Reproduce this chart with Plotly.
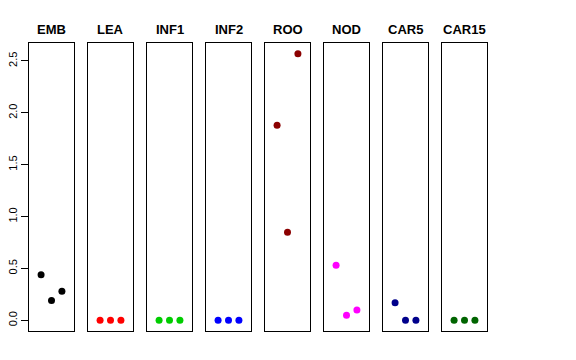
import plotly.graph_objects as go

tissues = ["EMB", "LEA", "INF1", "INF2", "ROO", "NOD", "CAR5", "CAR15"]
rep1 = [0.44, 0.0, 0.0, 0.0, 1.88, 0.53, 0.17, 0.0]
rep2 = [0.19, 0.0, 0.0, 0.0, 0.85, 0.05, 0.0, 0.0]
rep3 = [0.28, 0.0, 0.0, 0.0, 2.57, 0.10, 0.0, 0.0]
colors = ["#000000", "#FF0000", "#00CD00", "#0000FF", "#8B0000", "#FF00FF", "#00008B", "#006400"]
reps = [1, 2, 3]
yticks = [0.0, 0.5, 1.0, 1.5, 2.0, 2.5]

W, H = 576, 360
OFF = 8  # default page body margin
fig = go.Figure()
ymax = max(rep1 + rep2 + rep3)
ylo, yhi = -0.04 * ymax, ymax * 1.04

for i, t in enumerate(tissues):
    left = 29 + 59 * i - OFF
    right = left + 45
    ax = "" if i == 0 else str(i + 1)
    fig.add_trace(go.Scatter(
        x=reps, y=[rep1[i], rep2[i], rep3[i]], mode="markers",
        marker=dict(color=colors[i], size=7),
        xaxis="x" + ax, yaxis="y" + ax, showlegend=False, hoverinfo="skip"))
    fig.layout["xaxis" + ax] = dict(
        domain=[left / W, right / W], range=[-0.16, 4.16], anchor="y" + ax,
        showgrid=False, zeroline=False, showticklabels=False, ticks="", automargin=False,
        showline=True, mirror=True, linecolor="black", linewidth=1)
    ydict = dict(
        domain=[1 - (331 - OFF) / H, 1 - (43 - OFF) / H], range=[ylo, yhi], anchor="x" + ax,
        showgrid=False, zeroline=False, automargin=False,
        showline=True, mirror=True, linecolor="black", linewidth=1)
    if i == 0:
        ydict.update(tickvals=yticks, tickformat=".1f", ticks="outside", ticklen=7,
                     tickcolor="black", tickangle=-90,
                     tickfont=dict(family="Liberation Sans, Arial", size=11, color="black"))
    else:
        ydict.update(showticklabels=False, ticks="")
    fig.layout["yaxis" + ax] = ydict
    fig.add_annotation(text="<b>%s</b>" % t, x=(left + right) / 2 / W, y=1 - (29 - OFF) / H,
                       xref="paper", yref="paper", showarrow=False,
                       font=dict(family="Liberation Sans, Arial", size=13, color="black"),
                       xanchor="center", yanchor="middle")

fig.update_layout(width=W, height=H, margin=dict(l=0, r=0, t=0, b=0, autoexpand=False),
                  plot_bgcolor="white", paper_bgcolor="white")
fig.write_html("out.html")
